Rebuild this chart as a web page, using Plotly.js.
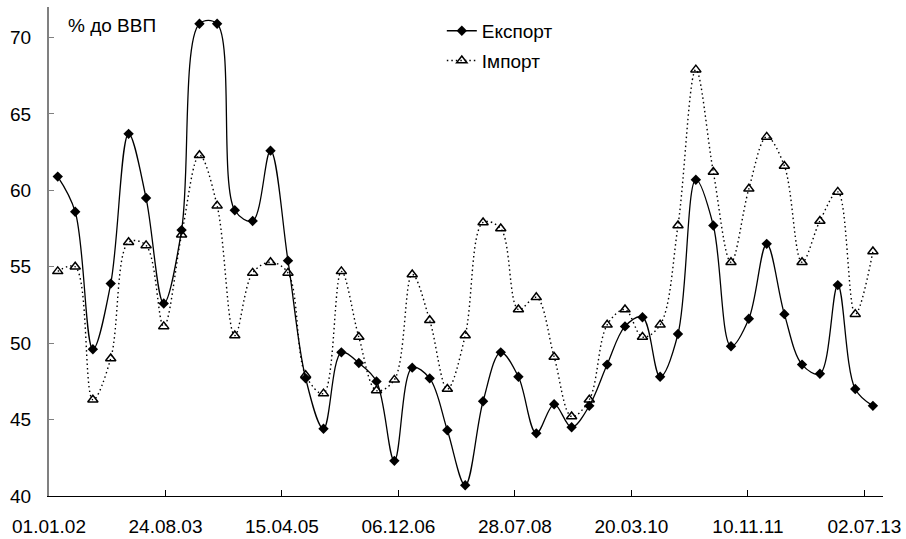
<!DOCTYPE html>
<html>
<head>
<meta charset="utf-8">
<script src="https://cdn.plot.ly/plotly-3.0.1.min.js"></script>
<style>html,body{margin:0;padding:0;background:#fff;}#chart{width:906px;height:539px;}</style>
</head>
<body>
<div id="chart"></div>
<script>
// Quarterly observations, 2002Q1 .. 2013Q3 (mid-quarter dates)
const quarterDates = [
  "2002-02-15","2002-05-16","2002-08-15","2002-11-15",
  "2003-02-15","2003-05-16","2003-08-15","2003-11-15",
  "2004-02-15","2004-05-16","2004-08-15","2004-11-15",
  "2005-02-15","2005-05-16","2005-08-15","2005-11-15",
  "2006-02-15","2006-05-16","2006-08-15","2006-11-15",
  "2007-02-15","2007-05-16","2007-08-15","2007-11-15",
  "2008-02-15","2008-05-16","2008-08-15","2008-11-15",
  "2009-02-15","2009-05-16","2009-08-15","2009-11-15",
  "2010-02-15","2010-05-16","2010-08-15","2010-11-15",
  "2011-02-15","2011-05-16","2011-08-15","2011-11-15",
  "2012-02-15","2012-05-16","2012-08-15","2012-11-15",
  "2013-02-15","2013-05-16","2013-08-15"
];
const exportValues = [
  60.9, 58.6, 49.6, 53.9, 63.7, 59.5, 52.6, 57.4,
  70.9, 70.9, 58.7, 58.0, 62.6, 55.4, 47.7, 44.4,
  49.4, 48.7, 47.5, 42.3, 48.4, 47.7, 44.3, 40.7,
  46.2, 49.4, 47.8, 44.1, 46.0, 44.5, 45.9, 48.6,
  51.1, 51.7, 47.8, 50.6, 60.7, 57.7, 49.8, 51.6,
  56.5, 51.9, 48.6, 48.0, 53.8, 47.0, 45.9
];
const importValues = [
  54.7, 55.0, 46.3, 49.0, 56.6, 56.4, 51.1, 57.1,
  62.3, 59.0, 50.5, 54.6, 55.3, 54.6, 47.9, 46.7,
  54.7, 50.4, 46.9, 47.6, 54.5, 51.5, 47.0, 50.5,
  57.9, 57.5, 52.2, 53.0, 49.1, 45.2, 46.3, 51.2,
  52.2, 50.4, 51.2, 57.7, 67.9, 61.2, 55.3, 60.1,
  63.5, 61.6, 55.3, 58.0, 59.9, 51.9, 56.0
];
const seriesNames = ["Експорт", "Імпорт"];
const unitLabel = "% до ВВП";
const yTicks = [40, 45, 50, 55, 60, 65, 70];

const FONT = "Arial, 'Liberation Sans', sans-serif";

const traces = [
  {
    x: quarterDates, y: exportValues, name: seriesNames[0], legendgroup: "a",
    type: "scatter", mode: "lines+markers",
    line: {color: "#000", width: 1.3, shape: "spline", smoothing: 1},
    marker: {symbol: "diamond", size: 8, color: "#000"}
  },
  {
    x: quarterDates, y: importValues, name: seriesNames[1], legendgroup: "b",
    type: "scatter", mode: "lines+markers",
    line: {color: "#000", width: 1.4, dash: "1.5px,3px", shape: "spline", smoothing: 1},
    marker: {symbol: "triangle-up-open", size: 9, color: "#000", line: {width: 1.5, color: "#000"}}
  }
];

const layout = {
  width: 906, height: 539,
  margin: {l: 49, r: 23, t: 7, b: 43, pad: 0},
  paper_bgcolor: "#fff", plot_bgcolor: "#fff",
  font: {family: FONT, size: 19, color: "#000"},
  showlegend: true,
  legend: {
    x: 0.471, xanchor: "left", y: 0.99, yanchor: "top",
    bgcolor: "rgba(0,0,0,0)", font: {family: FONT, size: 19, color: "#000"},
    tracegroupgap: 2
  },
  xaxis: {
    type: "date",
    range: ["2002-01-01", "2013-10-06"],
    tick0: "2002-01-01", dtick: 600 * 86400000,
    tickformat: "%d.%m.%y",
    ticks: "inside", ticklen: 6, tickcolor: "#000", tickwidth: 1,
    showline: true, linecolor: "#000", linewidth: 1,
    showgrid: false, zeroline: false,
    tickfont: {family: FONT, size: 19, color: "#000"},
    ticklabelstandoff: 13
  },
  yaxis: {
    range: [40, 72],
    tickvals: yTicks,
    ticks: "inside", ticklen: 5, tickcolor: "#808080", tickwidth: 1,
    showline: true, linecolor: "#808080", linewidth: 2,
    showgrid: false, zeroline: false,
    tickfont: {family: FONT, size: 19, color: "#000"},
    ticklabelstandoff: 12
  },
  annotations: [{
    text: unitLabel, xref: "paper", yref: "paper",
    x: 0.02, xanchor: "left", y: 0.963, yanchor: "middle",
    showarrow: false, font: {family: FONT, size: 19, color: "#000"}
  }]
};

Plotly.newPlot("chart", traces, layout, {displayModeBar: false, staticPlot: true});
</script>
</body>
</html>
